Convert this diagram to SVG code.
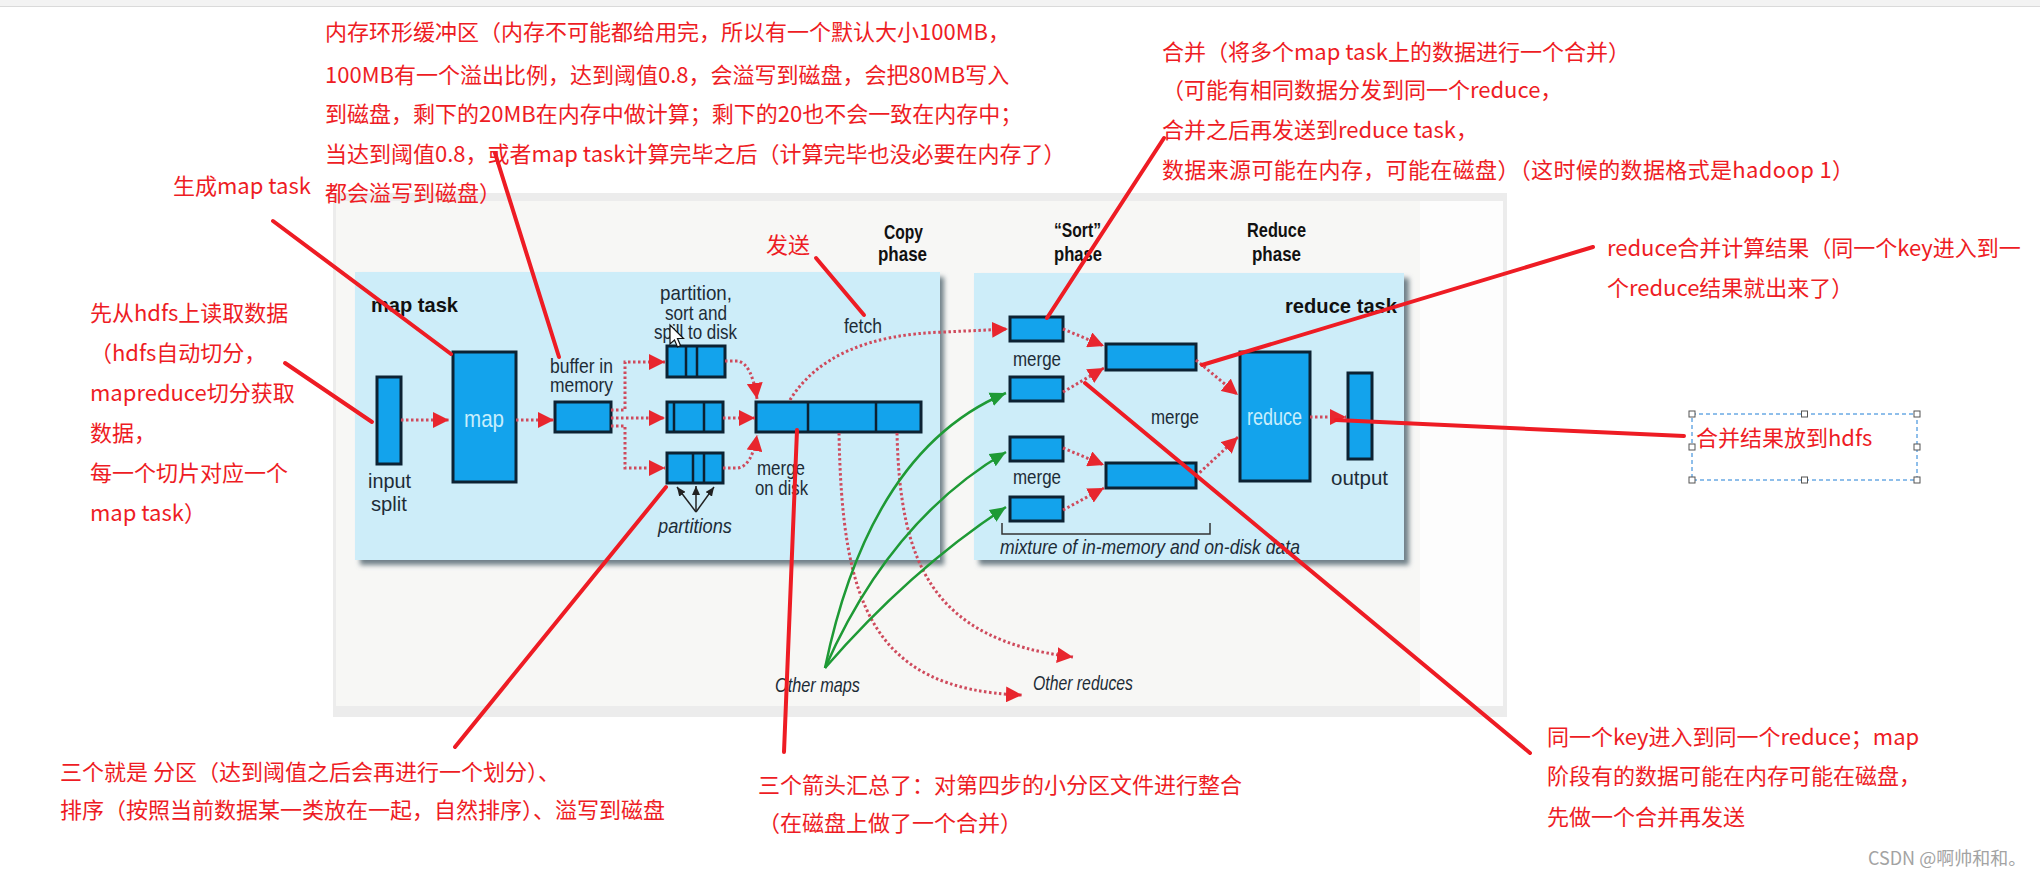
<svg xmlns="http://www.w3.org/2000/svg" width="2040" height="878" viewBox="0 0 2040 878">
<defs>
<style>
.ann{font-family:"Noto Sans CJK SC","Noto Sans CJK JP",sans-serif;font-size:22px;fill:#ee1c24;}
.lbl{font-family:"Liberation Sans","Open Sans",sans-serif;font-size:21px;fill:#1d2c37;}
.bold{font-weight:bold;fill:#111;}
.it{font-style:italic;}
.inbox{fill:#c8eefc;font-size:24px;}
.box{fill:#13a3ec;stroke:#0c2233;stroke-width:3;}
.div{stroke:#0c2233;stroke-width:2.5;}
.panel{fill:#cdedf9;}
.shadow{fill:#6f8088;}
.dot{fill:none;stroke:#cf4a5c;stroke-width:3;stroke-dasharray:2.5 2.5;marker-end:url(#ra);}
.grn{fill:none;stroke:#1e9a35;stroke-width:2.5;marker-end:url(#ga);}
.red{stroke:#ee1c24;stroke-width:4;stroke-linecap:round;fill:none;}
.blk{stroke:#222;stroke-width:1.5;fill:none;marker-end:url(#ka);}
.hd{fill:#fff;stroke:#555;stroke-width:1;}
</style>
<marker id="ra" markerUnits="userSpaceOnUse" markerWidth="18" markerHeight="16" refX="16" refY="8" orient="auto" viewBox="0 0 18 16"><path d="M0,0 L16,8 L0,16 Z" fill="#e8262e"/></marker>
<marker id="ga" markerUnits="userSpaceOnUse" markerWidth="18" markerHeight="16" refX="16" refY="8" orient="auto" viewBox="0 0 18 16"><path d="M0,1 L16,8 L0,15 Z" fill="#1e9a35"/></marker>
<marker id="ka" markerUnits="userSpaceOnUse" markerWidth="10" markerHeight="8" refX="9" refY="4" orient="auto" viewBox="0 0 10 8"><path d="M0,0 L9,4 L0,8 Z" fill="#222"/></marker>
<filter id="sh" x="-5%" y="-5%" width="115%" height="120%"><feGaussianBlur stdDeviation="2.5"/></filter>
</defs>

<rect x="0" y="0" width="2040" height="878" fill="#ffffff"/>
<rect x="0" y="0" width="2040" height="6" fill="#f3f3f3"/>
<line x1="0" y1="6.5" x2="2040" y2="6.5" stroke="#dadada" stroke-width="1"/>

<g id="picture">
<rect x="333" y="193" width="1174" height="524" fill="#ececec"/>
<rect x="336" y="201" width="1167" height="505" fill="#f7f7f5"/>
<rect x="1420" y="201" width="83" height="505" fill="#fdfdfd"/>
</g>

<g id="map-task-panel">
<rect class="shadow" x="360" y="277" width="584" height="288" filter="url(#sh)"/>
<rect class="panel" x="355" y="272" width="585" height="288"/>
<text class="lbl bold" x="371" y="312" font-size="25" textLength="87" lengthAdjust="spacingAndGlyphs">map task</text>
</g>

<g id="reduce-task-panel">
<rect class="shadow" x="979" y="278" width="430" height="287" filter="url(#sh)"/>
<rect class="panel" x="974" y="273" width="430" height="287"/>
<text class="lbl bold" x="1285" y="313" font-size="26" textLength="112" lengthAdjust="spacingAndGlyphs">reduce task</text>
</g>

<g id="phase-labels">
<text class="lbl bold"><tspan x="884" y="239" textLength="39" lengthAdjust="spacingAndGlyphs">Copy</tspan><tspan x="878" y="261" textLength="49" lengthAdjust="spacingAndGlyphs">phase</tspan></text>
<text class="lbl bold"><tspan x="1054" y="237" textLength="47" lengthAdjust="spacingAndGlyphs">“Sort”</tspan><tspan x="1054" y="261" textLength="48" lengthAdjust="spacingAndGlyphs">phase</tspan></text>
<text class="lbl bold"><tspan x="1247" y="237" textLength="59" lengthAdjust="spacingAndGlyphs">Reduce</tspan><tspan x="1252" y="261" textLength="49" lengthAdjust="spacingAndGlyphs">phase</tspan></text>
</g>

<g id="input-split">
<rect class="box" x="377" y="377" width="24" height="87"/>
<text class="lbl"><tspan x="368" y="488" textLength="43" lengthAdjust="spacingAndGlyphs">input</tspan><tspan x="371" y="511" textLength="36" lengthAdjust="spacingAndGlyphs">split</tspan></text>
</g>

<g id="map">
<rect class="box" x="453" y="352" width="63" height="130"/>
<text class="lbl inbox" x="464" y="427" textLength="40" lengthAdjust="spacingAndGlyphs">map</text>
</g>

<g id="buffer">
<rect class="box" x="555" y="402" width="56" height="30"/>
<text class="lbl"><tspan x="550" y="373" textLength="63" lengthAdjust="spacingAndGlyphs">buffer in</tspan><tspan x="550" y="392" textLength="63" lengthAdjust="spacingAndGlyphs">memory</tspan></text>
</g>

<g id="partitions">
<text class="lbl" font-size="19"><tspan x="660" y="300" textLength="72" lengthAdjust="spacingAndGlyphs">partition,</tspan><tspan x="665" y="319.5" textLength="62" lengthAdjust="spacingAndGlyphs">sort and</tspan><tspan x="654" y="339" textLength="83" lengthAdjust="spacingAndGlyphs">spill to disk</tspan></text>
<rect class="box" x="667" y="346" width="58" height="31"/>
<line class="div" x1="686" y1="346" x2="686" y2="377"/>
<line class="div" x1="697" y1="346" x2="697" y2="377"/>
<rect class="box" x="667" y="402" width="56" height="30"/>
<line class="div" x1="674" y1="402" x2="674" y2="432"/>
<line class="div" x1="704" y1="402" x2="704" y2="432"/>
<rect class="box" x="667" y="453" width="56" height="30"/>
<line class="div" x1="693" y1="453" x2="693" y2="483"/>
<line class="div" x1="704" y1="453" x2="704" y2="483"/>
<text class="lbl it" x="658" y="533" font-size="20" textLength="74" lengthAdjust="spacingAndGlyphs">partitions</text>
<path d="M670,325 L670,344 L674.5,340 L677.5,347 L680.5,345.5 L677.5,338.5 L683.5,338.5 Z" fill="#ffffff" stroke="#111" stroke-width="1.2"/>
</g>

<g id="merge-on-disk">
<rect class="box" x="756" y="402" width="165" height="30"/>
<line class="div" x1="808" y1="402" x2="808" y2="432"/>
<line class="div" x1="876" y1="402" x2="876" y2="432"/>
<text class="lbl" font-size="20"><tspan x="757" y="475" textLength="48" lengthAdjust="spacingAndGlyphs">merge</tspan><tspan x="755" y="495" textLength="53" lengthAdjust="spacingAndGlyphs">on disk</tspan></text>
</g>

<g id="fetch-label"><text class="lbl" x="844" y="333" textLength="38" lengthAdjust="spacingAndGlyphs">fetch</text></g>

<g id="merge-inputs">
<rect class="box" x="1010" y="317" width="53" height="24"/>
<rect class="box" x="1010" y="377" width="53" height="24"/>
<rect class="box" x="1010" y="437" width="53" height="24"/>
<rect class="box" x="1010" y="497" width="53" height="24"/>
<text class="lbl" x="1013" y="366" textLength="48" lengthAdjust="spacingAndGlyphs">merge</text>
<text class="lbl" x="1013" y="484" textLength="48" lengthAdjust="spacingAndGlyphs">merge</text>
</g>

<g id="merge-middle">
<rect class="box" x="1106" y="344" width="90" height="26"/>
<rect class="box" x="1106" y="463" width="90" height="25"/>
<text class="lbl" x="1151" y="424" textLength="48" lengthAdjust="spacingAndGlyphs">merge</text>
</g>

<g id="reduce">
<rect class="box" x="1240" y="352" width="70" height="129"/>
<text class="lbl inbox" x="1247" y="425" textLength="55" lengthAdjust="spacingAndGlyphs">reduce</text>
</g>

<g id="output">
<rect class="box" x="1348" y="373" width="24" height="86"/>
<text class="lbl" x="1331" y="485" textLength="57" lengthAdjust="spacingAndGlyphs">output</text>
</g>

<g id="mixture">
<path d="M1002,523 V534 H1210 V523" stroke="#333" stroke-width="1.5" fill="none"/>
<text class="lbl it" x="1000" y="554" font-size="20" textLength="300" lengthAdjust="spacingAndGlyphs">mixture of in-memory and on-disk data</text>
</g>

<g id="other-labels">
<text class="lbl it" x="775" y="692" font-size="20" textLength="85" lengthAdjust="spacingAndGlyphs">Other maps</text>
<text class="lbl it" x="1033" y="690" font-size="20" textLength="100" lengthAdjust="spacingAndGlyphs">Other reduces</text>
</g>

<g id="connectors">
<path class="dot" d="M401,420 L449,420"/>
<path class="dot" d="M516,420 L554,420"/>
<path class="dot" d="M611,410 H625 V362 H665"/>
<path class="dot" d="M611,418 H665"/>
<path class="dot" d="M611,426 H625 V468 H665"/>
<path class="dot" d="M725,361 L738,361 Q752,364 757,399"/>
<path class="dot" d="M723,418 L755,418"/>
<path class="dot" d="M723,468 L738,468 Q752,466 757,435"/>
<path class="dot" d="M790,400 Q830,335 945,332 L1008,329"/>
<path class="dot" d="M839,433 C842,600 870,690 1022,695"/>
<path class="dot" d="M897,433 C900,560 930,640 1073,657"/>
<path class="dot" d="M1063,329 L1104,346"/>
<path class="dot" d="M1063,392 L1104,368"/>
<path class="dot" d="M1063,448 L1104,465"/>
<path class="dot" d="M1063,510 L1104,488"/>
<path class="dot" d="M1196,360 L1238,395"/>
<path class="dot" d="M1196,476 L1238,437"/>
<path class="dot" d="M1310,417 L1346,417"/>
<path class="grn" d="M825,668 Q870,450 1006,393"/>
<path class="grn" d="M825,668 Q890,520 1006,452"/>
<path class="grn" d="M825,668 Q910,570 1006,507"/>
<path class="blk" d="M696,512 L677,487"/>
<path class="blk" d="M696,512 L696,486"/>
<path class="blk" d="M696,512 L714,487"/>
</g>

<g id="annotation-lines">
<line class="red" x1="273" y1="221" x2="451" y2="354"/>
<line class="red" x1="285" y1="363" x2="372" y2="422"/>
<line class="red" x1="495" y1="153" x2="559" y2="357"/>
<line class="red" x1="816" y1="258" x2="864" y2="315"/>
<line class="red" x1="1164" y1="138" x2="1047" y2="318"/>
<line class="red" x1="1593" y1="247" x2="1202" y2="365"/>
<line class="red" x1="1684" y1="436" x2="1336" y2="420"/>
<line class="red" x1="1085" y1="383" x2="1530" y2="753"/>
<line class="red" x1="455" y1="747" x2="666" y2="487"/>
<line class="red" x1="797" y1="430" x2="784" y2="752"/>
</g>

<g id="note-buffer">
<text class="ann" x="325" y="40">内存环形缓冲区（内存不可能都给用完，所以有一个默认大小100MB，</text>
<text class="ann" x="325" y="83">100MB有一个溢出比例，达到阈值0.8，会溢写到磁盘，会把80MB写入</text>
<text class="ann" x="325" y="122">到磁盘，剩下的20MB在内存中做计算；剩下的20也不会一致在内存中；</text>
<text class="ann" x="325" y="162">当达到阈值0.8，或者map task计算完毕之后（计算完毕也没必要在内存了）</text>
<text class="ann" x="325" y="201">都会溢写到磁盘）</text>
</g>

<g id="note-map"><text class="ann" x="173" y="194">生成map task</text></g>

<g id="note-hdfs">
<text class="ann" x="90" y="321">先从hdfs上读取数据</text>
<text class="ann" x="90" y="361">（hdfs自动切分，</text>
<text class="ann" x="90" y="401">mapreduce切分获取</text>
<text class="ann" x="90" y="441">数据，</text>
<text class="ann" x="90" y="481">每一个切片对应一个</text>
<text class="ann" x="90" y="521">map task）</text>
</g>

<g id="note-send"><text class="ann" x="766" y="253">发送</text></g>

<g id="note-merge">
<text class="ann" x="1162" y="60">合并（将多个map task上的数据进行一个合并）</text>
<text class="ann" x="1162" y="98">（可能有相同数据分发到同一个reduce，</text>
<text class="ann" x="1162" y="138">合并之后再发送到reduce task，</text>
<text class="ann" x="1162" y="178" textLength="692" lengthAdjust="spacing">数据来源可能在内存，可能在磁盘）（这时候的数据格式是hadoop 1）</text>
</g>

<g id="note-reduce">
<text class="ann" x="1607" y="256">reduce合并计算结果（同一个key进入到一</text>
<text class="ann" x="1607" y="296">个reduce结果就出来了）</text>
</g>

<g id="note-hdfs-out">
<rect x="1692" y="414" width="225" height="66" fill="none" stroke="#1e7fd6" stroke-width="1" stroke-dasharray="4 3"/>
<rect class="hd" x="1689" y="411" width="6" height="6"/>
<rect class="hd" x="1801.5" y="411" width="6" height="6"/>
<rect class="hd" x="1914" y="411" width="6" height="6"/>
<rect class="hd" x="1689" y="444" width="6" height="6"/>
<rect class="hd" x="1914" y="444" width="6" height="6"/>
<rect class="hd" x="1689" y="477" width="6" height="6"/>
<rect class="hd" x="1801.5" y="477" width="6" height="6"/>
<rect class="hd" x="1914" y="477" width="6" height="6"/>
<text class="ann" x="1696" y="446">合并结果放到hdfs</text>
</g>

<g id="note-partition">
<text class="ann" x="60" y="780">三个就是 分区（达到阈值之后会再进行一个划分）、</text>
<text class="ann" x="60" y="818">排序（按照当前数据某一类放在一起，自然排序）、溢写到磁盘</text>
</g>

<g id="note-arrows">
<text class="ann" x="758" y="793">三个箭头汇总了：对第四步的小分区文件进行整合</text>
<text class="ann" x="758" y="831">（在磁盘上做了一个合并）</text>
</g>

<g id="note-key">
<text class="ann" x="1547" y="745">同一个key进入到同一个reduce；map</text>
<text class="ann" x="1547" y="784">阶段有的数据可能在内存可能在磁盘，</text>
<text class="ann" x="1547" y="825">先做一个合并再发送</text>
</g>

<g id="watermark"><text x="1868" y="865" font-family="Noto Sans CJK SC, sans-serif" font-size="18" fill="#a3a3a3">CSDN @啊帅和和。</text></g>
</svg>
